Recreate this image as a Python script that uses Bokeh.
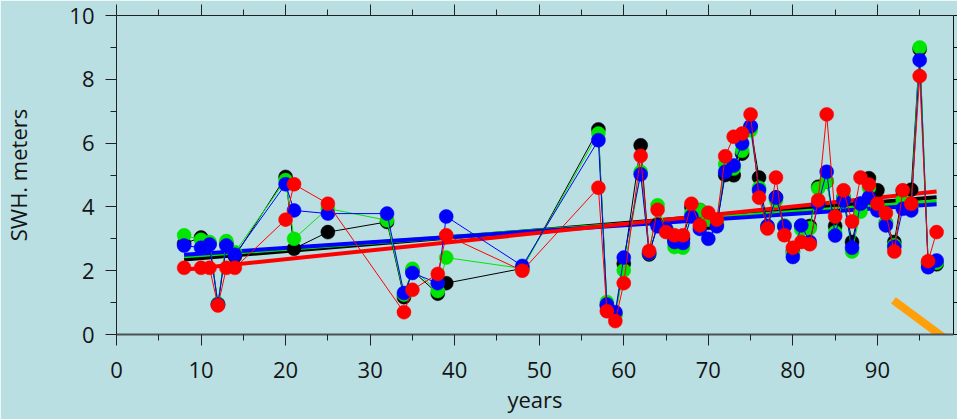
from bokeh.plotting import figure
from bokeh.models import FixedTicker, LinearAxis, Range1d
from bokeh.embed import file_html
from bokeh.resources import INLINE

# ---------------- data ----------------
years = [8, 10, 11, 12, 13, 14, 20, 21, 25, 32, 34, 35, 38, 39, 48,
         57, 58, 59, 60, 62, 63, 64, 65, 66, 67, 68, 69, 70, 71, 72,
         73, 74, 75, 76, 77, 78, 79, 80, 81, 82, 83, 84, 85, 86, 87,
         88, 89, 90, 91, 92, 93, 94, 95, 96, 97]

black_swh = [2.85, 3.04, 2.85, 0.95, 2.85, 2.45, 4.94, 2.69, 3.21, 3.53, 1.17, 2.00, 1.28, 1.61, 2.07,
             6.43, 0.90, 0.65, 2.22, 5.93, 2.51, 3.45, 3.30, 2.95, 3.00, 4.00, 3.90, 3.50, 3.45, 5.00,
             4.99, 5.67, 6.50, 4.92, 3.37, 4.30, 3.40, 2.60, 3.40, 3.40, 4.63, 4.80, 3.40, 4.30, 2.90,
             4.10, 4.90, 4.52, 3.50, 2.90, 4.50, 4.54, 8.94, 2.25, 2.20]

green_swh = [3.11, 2.97, 2.90, 0.97, 2.93, 2.58, 4.84, 3.00, 3.95, 3.58, 1.25, 2.06, 1.36, 2.41, 2.07,
             6.30, 1.02, 0.60, 2.01, 5.10, 2.55, 4.05, 3.30, 2.74, 2.72, 3.80, 3.90, 3.60, 3.50, 5.34,
             5.20, 5.76, 6.40, 4.60, 3.40, 4.20, 3.42, 2.55, 3.30, 3.33, 4.58, 4.80, 3.20, 4.30, 2.60,
             3.85, 4.60, 4.00, 3.50, 2.80, 4.20, 4.00, 9.00, 2.20, 2.25]

blue_swh = [2.79, 2.72, 2.82, 0.94, 2.79, 2.50, 4.71, 3.89, 3.79, 3.79, 1.30, 1.93, 1.61, 3.70, 2.15,
            6.09, 0.94, 0.70, 2.41, 5.02, 2.55, 3.39, 3.31, 2.90, 2.87, 3.70, 3.31, 3.00, 3.39, 5.10,
            5.30, 5.99, 6.53, 4.52, 3.40, 4.29, 3.39, 2.43, 3.42, 2.90, 4.10, 5.10, 3.10, 4.20, 2.72,
            4.10, 4.30, 3.89, 3.42, 2.75, 3.94, 3.89, 8.60, 2.11, 2.32]

red_years = [8, 10, 11, 12, 13, 14, 20, 21, 25, 34, 35, 38, 39, 48,
             57, 58, 59, 60, 62, 63, 64, 65, 66, 67, 68, 69, 70, 71, 72,
             73, 74, 75, 76, 77, 78, 79, 80, 81, 82, 83, 84, 85, 86, 87,
             88, 89, 90, 91, 92, 93, 94, 95, 96, 97]
red_swh = [2.09, 2.09, 2.09, 0.91, 2.09, 2.09, 3.60, 4.71, 4.10, 0.70, 1.40, 1.90, 3.11, 2.00,
           4.60, 0.73, 0.42, 1.61, 5.60, 2.62, 3.91, 3.21, 3.11, 3.11, 4.10, 3.42, 3.82, 3.60, 5.59,
           6.20, 6.30, 6.90, 4.29, 3.32, 4.92, 3.11, 2.72, 2.90, 2.83, 4.21, 6.90, 3.70, 4.52, 3.54,
           4.92, 4.70, 4.10, 3.80, 2.60, 4.52, 4.10, 8.10, 2.30, 3.21]

# linear trend lines (end points)
trend_years = [8, 97]
black_trend = [2.35, 4.30]
green_trend = [2.45, 4.17]
blue_trend = [2.50, 4.08]
red_trend = [2.03, 4.48]

# orange stroke in the lower-right corner
orange_x = [91.9, 102.3]
orange_y = [1.07, -0.97]

x_major = [0, 10, 20, 30, 40, 50, 60, 70, 80, 90]
x_minor = [5, 15, 25, 35, 45, 55, 65, 75, 85, 95]
y_major = [0, 2, 4, 6, 8, 10]
y_minor = [1, 3, 5, 7, 9]

BG = "#badfe3"
FONT = "Open Sans"
TXT = "#141414"

p = figure(width=957, height=419, x_range=Range1d(0, 99), y_range=Range1d(0, 10),
           output_backend="svg", toolbar_location=None,
           min_border_left=114, min_border_right=4, min_border_top=15, min_border_bottom=85,
           background_fill_color=BG, border_fill_color=BG, outline_line_color=None)
p.grid.visible = False

# bottom axis
xa = p.xaxis[0]
xa.ticker = FixedTicker(ticks=x_major, minor_ticks=x_minor)
xa.major_tick_out = 11
xa.major_tick_in = 0
xa.minor_tick_out = 6
xa.minor_tick_in = 0
xa.axis_line_width = 2
xa.axis_line_color = "#4a5356"
xa.major_tick_line_color = "#222222"
xa.minor_tick_line_color = "#222222"
xa.major_label_text_font = FONT
xa.major_label_text_font_size = "22px"
xa.major_label_text_color = TXT
xa.major_label_standoff = 16
xa.axis_label = "years"
xa.axis_label_text_font = FONT
xa.axis_label_text_font_size = "22px"
xa.axis_label_text_font_style = "normal"
xa.axis_label_text_color = TXT
xa.axis_label_standoff = 3

# left axis
ya = p.yaxis[0]
ya.ticker = FixedTicker(ticks=y_major, minor_ticks=y_minor)
ya.major_tick_out = 11
ya.major_tick_in = 0
ya.minor_tick_out = 6
ya.minor_tick_in = 0
ya.axis_line_width = 1
ya.axis_line_color = "#222222"
ya.major_tick_line_color = "#222222"
ya.minor_tick_line_color = "#222222"
ya.major_label_text_font = FONT
ya.major_label_text_font_size = "22px"
ya.major_label_text_color = TXT
ya.major_label_standoff = 11
ya.axis_label = "SWH. meters"
ya.axis_label_text_font = FONT
ya.axis_label_text_font_size = "22px"
ya.axis_label_text_font_style = "normal"
ya.axis_label_text_color = TXT
ya.axis_label_standoff = 33

# top axis (ticks only)
ta = LinearAxis(ticker=FixedTicker(ticks=x_major, minor_ticks=x_minor),
                major_tick_out=11, major_tick_in=0, minor_tick_out=6, minor_tick_in=0,
                axis_line_color="#222222", major_tick_line_color="#222222",
                minor_tick_line_color="#222222",
                major_label_text_font_size="0px", major_label_standoff=0)
p.add_layout(ta, "above")

# right axis (ticks only)
ra = LinearAxis(ticker=FixedTicker(ticks=y_major, minor_ticks=y_minor),
                major_tick_out=4, major_tick_in=0, minor_tick_out=4, minor_tick_in=0,
                axis_line_color="#111111", major_tick_line_color="#111111",
                minor_tick_line_color="#111111",
                major_label_text_font_size="0px", major_label_standoff=0)
p.add_layout(ra, "right")

# trend lines
p.line(trend_years, black_trend, line_color="#000000", line_width=4)
p.line(trend_years, green_trend, line_color="#00e600", line_width=4)
p.line(trend_years, blue_trend, line_color="#0000ff", line_width=4)
p.line(trend_years, red_trend, line_color="#ff0000", line_width=4)

# series
series = [
    (years, black_swh, "#000000"),
    (years, green_swh, "#00e600"),
    (years, blue_swh, "#0000ff"),
    (red_years, red_swh, "#ff0000"),
]
for xs, ys, c in series:
    p.line(xs, ys, line_color=c, line_width=1)
    p.scatter(xs, ys, size=14, fill_color=c, line_color=c, line_width=0.5)

# orange stroke
p.line(orange_x, orange_y, line_color="#ff9f0a", line_width=8)

open("out.html", "w").write(file_html(p, INLINE))
